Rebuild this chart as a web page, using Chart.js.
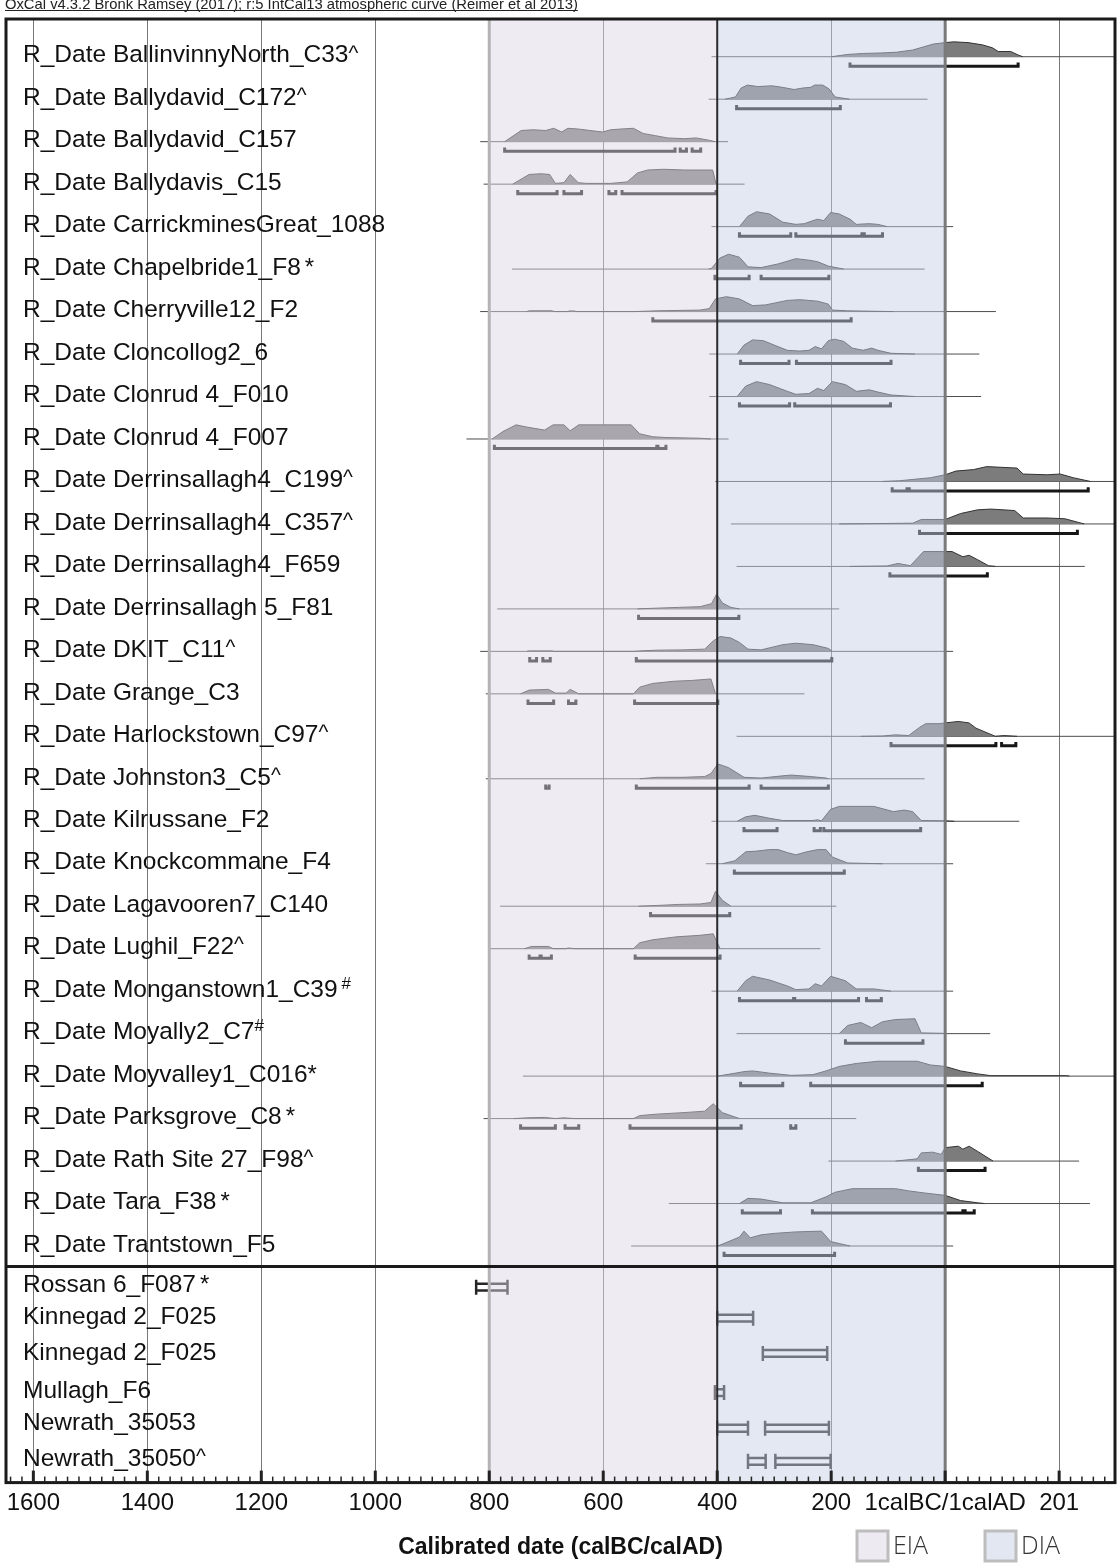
<!DOCTYPE html>
<html>
<head>
<meta charset="utf-8">
<script src="https://cdn.jsdelivr.net/npm/chart.js@4.4.0/dist/chart.umd.min.js"></script>
<style>
  html, body { margin: 0; padding: 0; background: #fff; }
  #wrap { width: 1120px; height: 1564px; position: relative; }
</style>
</head>
<body>
<div id="wrap"><canvas id="oxcalChart"></canvas></div>
<script>
// years: negative = BC, positive = AD
const tickYears = [-1600, -1400, -1200, -1000, -800, -600, -400, -200, 0, 200];
const tickLabels = ["1600", "1400", "1200", "1000", "800", "600", "400", "200", "1calBC/1calAD", "201"];

const periodNames = ["EIA", "DIA"];
const periodStart = [-800, -400];
const periodEnd = [-400, 0];

const rowLabels = [
  "R_Date BallinvinnyNorth_C33", "R_Date Ballydavid_C172", "R_Date Ballydavid_C157",
  "R_Date Ballydavis_C15", "R_Date CarrickminesGreat_1088", "R_Date Chapelbride1_F8",
  "R_Date Cherryville12_F2", "R_Date Cloncollog2_6", "R_Date Clonrud 4_F010",
  "R_Date Clonrud 4_F007", "R_Date Derrinsallagh4_C199", "R_Date Derrinsallagh4_C357",
  "R_Date Derrinsallagh4_F659", "R_Date Derrinsallagh 5_F81", "R_Date DKIT_C11",
  "R_Date Grange_C3", "R_Date Harlockstown_C97", "R_Date Johnston3_C5",
  "R_Date Kilrussane_F2", "R_Date Knockcommane_F4", "R_Date Lagavooren7_C140",
  "R_Date Lughil_F22", "R_Date Monganstown1_C39", "R_Date Moyally2_C7",
  "R_Date Moyvalley1_C016", "R_Date Parksgrove_C8", "R_Date Rath Site 27_F98",
  "R_Date Tara_F38", "R_Date Trantstown_F5"
];
const rowMarks = [
  "^", "^", "", "", "", " *", "", "", "", "", "^", "^", "", "", "^",
  "", "^", "^", "", "", "", "^", " #", "#", "*", " *", "^", " *", ""
];

// [year, relative probability 0-100]
const profiles = [
  [[-199,0],[-172,15],[-143,22],[-114,25],[-86,30],[-57,45],[-39,65],[-21,85],[0,95],[15,100],[40,95],[65,80],[83,60],[93,35],[115,35],[129,10],[136,0]],
  [[-386,0],[-368,15],[-358,75],[-347,95],[-329,85],[-304,90],[-286,80],[-265,65],[-250,75],[-236,80],[-229,95],[-215,95],[-204,70],[-193,15],[-168,0]],
  [[-773,0],[-744,75],[-723,80],[-701,75],[-687,90],[-673,65],[-662,90],[-644,85],[-623,75],[-601,65],[-587,80],[-569,85],[-547,90],[-530,55],[-508,40],[-487,25],[-458,20],[-437,25],[-415,10],[-404,0]],
  [[-759,0],[-730,65],[-709,70],[-694,65],[-684,5],[-669,10],[-658,65],[-644,10],[-630,5],[-587,5],[-558,15],[-540,75],[-522,95],[-494,100],[-458,95],[-437,95],[-408,95],[-402,0]],
  [[-361,0],[-346,70],[-331,100],[-308,85],[-285,30],[-262,15],[-247,20],[-232,40],[-224,50],[-213,40],[-201,95],[-186,85],[-167,50],[-156,15],[-133,20],[-118,15],[-102,0]],
  [[-415,0],[-410,5],[-395,75],[-380,100],[-361,80],[-346,15],[-323,10],[-293,35],[-262,70],[-239,60],[-224,50],[-205,20],[-178,0]],
  [[-734,0],[-730,5],[-690,5],[-686,0],[-662,0],[-660,4],[-650,4],[-648,0],[-545,0],[-506,5],[-430,10],[-414,20],[-403,85],[-384,100],[-361,85],[-338,40],[-315,45],[-277,75],[-255,80],[-224,70],[-205,50],[-198,10],[-171,5],[-125,2],[-91,0]],
  [[-365,0],[-353,60],[-338,95],[-319,90],[-300,60],[-277,25],[-255,20],[-239,25],[-228,50],[-217,35],[-205,90],[-194,100],[-178,85],[-163,40],[-144,25],[-129,40],[-118,25],[-95,5],[-53,0]],
  [[-365,0],[-350,70],[-331,100],[-308,80],[-277,35],[-262,15],[-239,20],[-224,55],[-213,40],[-198,100],[-175,80],[-156,35],[-133,45],[-118,30],[-95,10],[-53,0]],
  [[-795,0],[-776,50],[-753,95],[-734,80],[-703,60],[-688,95],[-669,95],[-658,55],[-643,95],[-551,95],[-536,35],[-513,15],[-490,10],[-430,5],[-411,0]],
  [[-110,0],[-80,5],[-53,15],[-26,25],[0,45],[19,70],[50,80],[73,100],[126,90],[137,50],[179,45],[202,50],[225,25],[255,0]],
  [[-186,0],[-57,5],[-42,30],[0,30],[27,70],[57,95],[80,100],[122,90],[137,40],[179,40],[210,35],[244,0]],
  [[-167,0],[-102,3],[-83,20],[-61,5],[-38,100],[12,100],[31,65],[42,75],[57,45],[76,5],[88,0]],
  [[-540,0],[-506,5],[-468,10],[-430,15],[-410,35],[-401,100],[-391,40],[-376,10],[-361,0]],
  [[-734,0],[-730,3],[-690,3],[-686,0],[-545,0],[-536,3],[-506,8],[-460,10],[-422,15],[-407,70],[-395,100],[-376,90],[-361,60],[-346,15],[-323,10],[-285,45],[-262,55],[-232,45],[-205,20],[-198,0]],
  [[-745,0],[-730,25],[-696,30],[-684,5],[-665,5],[-658,30],[-643,0],[-547,0],[-536,45],[-513,70],[-475,85],[-445,90],[-411,100],[-403,0]],
  [[-148,0],[-110,2],[-87,10],[-64,5],[-45,60],[-34,85],[-11,85],[0,90],[23,100],[42,90],[54,55],[88,0],[103,5],[126,0]],
  [[-536,0],[-506,10],[-460,10],[-422,15],[-411,35],[-399,100],[-380,75],[-353,10],[-323,5],[-285,20],[-270,25],[-236,15],[-209,5],[-205,0]],
  [[-365,0],[-350,30],[-334,40],[-308,20],[-285,5],[-232,5],[-224,10],[-217,3],[-201,80],[-186,100],[-125,100],[-91,65],[-72,75],[-57,65],[-42,5],[0,3],[16,0]],
  [[-391,0],[-369,20],[-350,80],[-331,85],[-308,95],[-293,95],[-277,75],[-262,60],[-243,80],[-224,95],[-209,95],[-198,45],[-171,5],[-110,0]],
  [[-538,0],[-506,5],[-468,12],[-430,15],[-411,25],[-403,100],[-391,40],[-376,0]],
  [[-738,0],[-726,15],[-696,15],[-688,0],[-665,0],[-662,5],[-650,0],[-547,0],[-536,40],[-513,60],[-471,80],[-430,90],[-407,100],[-395,0]],
  [[-365,0],[-350,70],[-338,100],[-308,75],[-277,35],[-262,10],[-239,15],[-228,50],[-217,35],[-201,100],[-175,70],[-156,15],[-125,15],[-95,0]],
  [[-186,0],[-171,55],[-148,75],[-129,40],[-110,80],[-87,95],[-53,100],[-42,5],[-3,2],[0,0]],
  [[-399,0],[-353,30],[-338,35],[-308,20],[-270,5],[-232,10],[-209,35],[-186,65],[-156,85],[-118,100],[-49,100],[-26,75],[0,65],[27,35],[57,15],[80,3],[213,3],[218,0]],
  [[-757,0],[-734,5],[-703,8],[-684,0],[-669,5],[-650,0],[-547,0],[-536,20],[-506,30],[-460,40],[-422,50],[-407,100],[-391,40],[-361,0]],
  [[-87,0],[-49,15],[-42,55],[-22,60],[-7,45],[0,90],[23,100],[31,80],[42,100],[57,65],[84,0]],
  [[-361,0],[-346,35],[-323,30],[-285,5],[-236,5],[-209,45],[-194,75],[-163,100],[-87,100],[-64,85],[-34,70],[0,55],[27,20],[57,5],[69,0]],
  [[-399,0],[-361,60],[-353,100],[-342,55],[-323,75],[-300,85],[-262,95],[-217,100],[-201,30],[-167,0]]
];

// full extent of each calibrated date (thin line)
const spans = [
  [-410,300],[-415,-31],[-816,-381],[-810,-352],[-410,14],[-760,-36],[-816,89],[-414,60],
  [-414,63],[-840,-380],[-404,300],[-376,300],[-366,245],[-786,-186],[-816,14],[-806,-247],
  [-366,300],[-806,-36],[-410,130],[-420,14],[-781,-191],[-801,-219],[-410,14],[-366,79],
  [-741,300],[-810,-156],[-205,235],[-485,254],[-551,14]
];

// highest posterior density ranges (brackets)
const hpdRanges = [
  [[-167,128]],
  [[-366,-184]],
  [[-773,-474],[-465,-454],[-444,-429]],
  [[-750,-681],[-669,-638],[-590,-578],[-567,-402]],
  [[-361,-271],[-262,-146],[-142,-110]],
  [[-404,-344],[-323,-204]],
  [[-513,-165]],
  [[-359,-274],[-261,-95]],
  [[-361,-273],[-264,-96]],
  [[-791,-506],[-504,-490]],
  [[-93,-67],[-63,251]],
  [[-45,232]],
  [[-97,74]],
  [[-538,-362]],
  [[-729,-717],[-706,-693],[-542,-199]],
  [[-732,-687],[-661,-648],[-545,-399]],
  [[-95,89],[99,124]],
  [[-701,-695],[-542,-344],[-323,-205]],
  [[-353,-295],[-230,-219],[-213,-43]],
  [[-370,-177]],
  [[-517,-378]],
  [[-730,-711],[-709,-691],[-544,-395]],
  [[-361,-266],[-264,-152],[-138,-112]],
  [[-175,-39]],
  [[-359,-285],[-236,65]],
  [[-745,-684],[-667,-643],[-553,-358],[-271,-262]],
  [[-47,70]],
  [[-356,-289],[-233,31],[35,51]],
  [[-388,-194]]
];

const modelLabels = ["Rossan 6_F087", "Kinnegad 2_F025", "Kinnegad 2_F025", "Mullagh_F6", "Newrath_35053", "Newrath_35050"];
const modelMarks = [" *", "", "", "", "", "^"];
const modelRanges = [
  [[-823,-768]],
  [[-400,-337]],
  [[-320,-207]],
  [[-404,-388]],
  [[-400,-346],[-316,-204]],
  [[-346,-315],[-298,-201]]
];

// ---- layout (row units on the y scale) ----
const X_MIN = -1648, X_MAX = 298;
const Y_MIN = -0.888, Y_MAX = 33.57;
const modelRowPos = [28.97, 29.70, 30.53, 31.45, 32.29, 33.07];
const modelLabelShift = [-2, -1, 0, -1, -5, -2];
const dividerPos = 28.48;
const PEAK = 0.35, DROP = 0.225, HOOK = 0.09;
const BOX_H = 0.08, BAR_H = 0.177;
const overlayColors = ["rgba(222,213,230,0.48)", "rgba(197,207,230,0.48)"];
const legendFill = ["#eeeaf2", "#e2e7f2"];
const FONT = "'Liberation Sans', Arial, sans-serif";

const datasets = [];
profiles.forEach((prof, i) => {
  datasets.push({
    data: prof.map(([x, p]) => ({ x: x, y: i - p / 100 * PEAK })),
    borderColor: "#333", borderWidth: 1, backgroundColor: "#7c7c7c",
    fill: { value: i }
  });
});
spans.forEach(([a, b], i) => {
  datasets.push({
    data: [{ x: a, y: i }, { x: b, y: i }],
    borderColor: "#4d4d4d", borderWidth: 1, fill: false
  });
});
hpdRanges.forEach((list, i) => {
  const yb = i + DROP, yt = yb - HOOK;
  const pts = [];
  list.forEach(([a, b]) => {
    pts.push({ x: a, y: yt }, { x: a, y: yb }, { x: b, y: yb }, { x: b, y: yt }, { x: b, y: null });
  });
  datasets.push({ data: pts, borderColor: "#161616", borderWidth: 3, fill: false });
});
modelRanges.forEach((list, k) => {
  const r = modelRowPos[k];
  const pts = [];
  list.forEach(([a, b]) => {
    pts.push({ x: a, y: r - BOX_H }, { x: b, y: r - BOX_H }, { x: b, y: r + BOX_H },
             { x: a, y: r + BOX_H }, { x: a, y: r - BOX_H }, { x: a, y: null });
    pts.push({ x: a, y: r - BAR_H }, { x: a, y: r + BAR_H }, { x: a, y: null });
    pts.push({ x: b, y: r - BAR_H }, { x: b, y: r + BAR_H }, { x: b, y: null });
  });
  datasets.push({ data: pts, borderColor: "#262626", borderWidth: 2.5, fill: false });
});

function drawLabel(ctx, text, mark, x, y) {
  ctx.font = "24.5px " + FONT;
  ctx.fillStyle = "#111";
  ctx.textBaseline = "middle";
  ctx.textAlign = "left";
  ctx.fillText(text, x, y);
  if (!mark) return;
  let mx = x + ctx.measureText(text).width;
  const sym = mark.trim();
  if (mark.startsWith(" ")) mx += 4;
  if (sym === "#") {
    ctx.font = "17px " + FONT;
    ctx.fillText(sym, mx, y - 6);
  } else if (sym === "^") {
    ctx.font = "21px " + FONT;
    ctx.fillText(sym, mx, y - 2);
  } else {
    ctx.font = "24px " + FONT;
    ctx.fillText(sym, mx, y);
  }
}

const oxcalDecor = {
  id: "oxcalDecor",
  beforeDraw(chart) {
    const ctx = chart.ctx;
    ctx.save();
    ctx.fillStyle = "#fff";
    ctx.fillRect(0, 0, chart.width, chart.height);
    ctx.restore();
  },
  afterDatasetsDraw(chart) {
    const { ctx, chartArea: a, scales: { x } } = chart;
    ctx.save();
    periodStart.forEach((s, k) => {
      const x0 = x.getPixelForValue(s), x1 = x.getPixelForValue(periodEnd[k]);
      ctx.fillStyle = overlayColors[k];
      ctx.fillRect(x0, a.top, x1 - x0, a.bottom - a.top);
    });
    const vline = (v, color, w) => {
      const px = x.getPixelForValue(v);
      ctx.strokeStyle = color; ctx.lineWidth = w;
      ctx.beginPath(); ctx.moveTo(px, a.top); ctx.lineTo(px, a.bottom); ctx.stroke();
    };
    vline(periodStart[0], "#b4b4b4", 3);
    vline(periodEnd[1], "#7a7a7a", 3);
    vline(periodEnd[0], "#2a2a2a", 2);
    ctx.restore();
  },
  afterDraw(chart) {
    const { ctx, chartArea: a, scales: { x, y } } = chart;
    ctx.save();
    // header
    const head = "OxCal v4.3.2 Bronk Ramsey (2017); r:5 IntCal13 atmospheric curve (Reimer et al 2013)";
    ctx.font = "13px " + FONT;
    const fs = 13 * 573 / ctx.measureText(head).width;
    ctx.font = fs.toFixed(2) + "px " + FONT;
    ctx.fillStyle = "#222";
    ctx.textBaseline = "alphabetic";
    ctx.fillText(head, 5, 9);
    ctx.fillRect(5, 10, ctx.measureText(head).width, 1);

    // frame and divider
    ctx.strokeStyle = "#1a1a1a";
    ctx.lineWidth = 3;
    ctx.strokeRect(a.left, a.top, a.right - a.left, a.bottom - a.top);
    const dy = y.getPixelForValue(dividerPos);
    ctx.beginPath(); ctx.moveTo(a.left, dy); ctx.lineTo(a.right, dy); ctx.stroke();

    // inner ticks along the bottom axis
    ctx.strokeStyle = "#222";
    for (let v = -1640; v <= X_MAX; v += 20) {
      const px = x.getPixelForValue(v);
      const major = v % 200 === 0;
      ctx.lineWidth = major ? 3 : 1.5;
      ctx.beginPath();
      ctx.moveTo(px, a.bottom);
      ctx.lineTo(px, a.bottom - (major ? 12 : 6));
      ctx.stroke();
    }

    // row labels
    rowLabels.forEach((t, i) => drawLabel(ctx, t, rowMarks[i], a.left + 17, y.getPixelForValue(i) - 1));
    modelLabels.forEach((t, k) => drawLabel(ctx, t, modelMarks[k], a.left + 17, y.getPixelForValue(modelRowPos[k]) + modelLabelShift[k]));

    // period legend
    const legendX = [857, 985];
    periodNames.forEach((name, k) => {
      ctx.fillStyle = legendFill[k];
      ctx.fillRect(legendX[k], 1531, 31, 30);
      ctx.strokeStyle = "#bdbdbd";
      ctx.lineWidth = 3;
      ctx.strokeRect(legendX[k], 1531, 31, 30);
      ctx.fillStyle = "#333";
      ctx.font = "300 25px 'Open Sans', sans-serif";
      ctx.textBaseline = "middle";
      ctx.fillText(name, legendX[k] + 36, 1547);
    });
    ctx.restore();
  }
};

Chart.defaults.font.family = FONT;

new Chart(document.getElementById("oxcalChart").getContext("2d"), {
  type: "line",
  data: { datasets: datasets },
  options: {
    responsive: true,
    maintainAspectRatio: false,
    animation: false,
    events: [],
    devicePixelRatio: 1,
    layout: { padding: { top: 19, left: 6, right: 5, bottom: 0 } },
    elements: {
      point: { radius: 0 },
      line: { tension: 0, borderJoinStyle: "miter", borderCapStyle: "butt" }
    },
    plugins: { legend: { display: false }, tooltip: { enabled: false } },
    scales: {
      x: {
        type: "linear",
        min: X_MIN,
        max: X_MAX,
        afterBuildTicks: (axis) => { axis.ticks = tickYears.map((v) => ({ value: v })); },
        ticks: {
          autoSkip: false, maxRotation: 0, padding: 6, color: "#111",
          font: { size: 24 },
          callback: (v) => tickLabels[tickYears.indexOf(v)]
        },
        grid: { color: "#777", lineWidth: 1, drawTicks: false },
        border: { display: false },
        title: {
          display: true, text: "Calibrated date (calBC/calAD)", color: "#111",
          font: { size: 23, weight: "bold" }, padding: { top: 10, bottom: 3 }
        }
      },
      y: { type: "linear", display: false, reverse: true, min: Y_MIN, max: Y_MAX }
    }
  },
  plugins: [oxcalDecor]
});
</script>
</body>
</html>
